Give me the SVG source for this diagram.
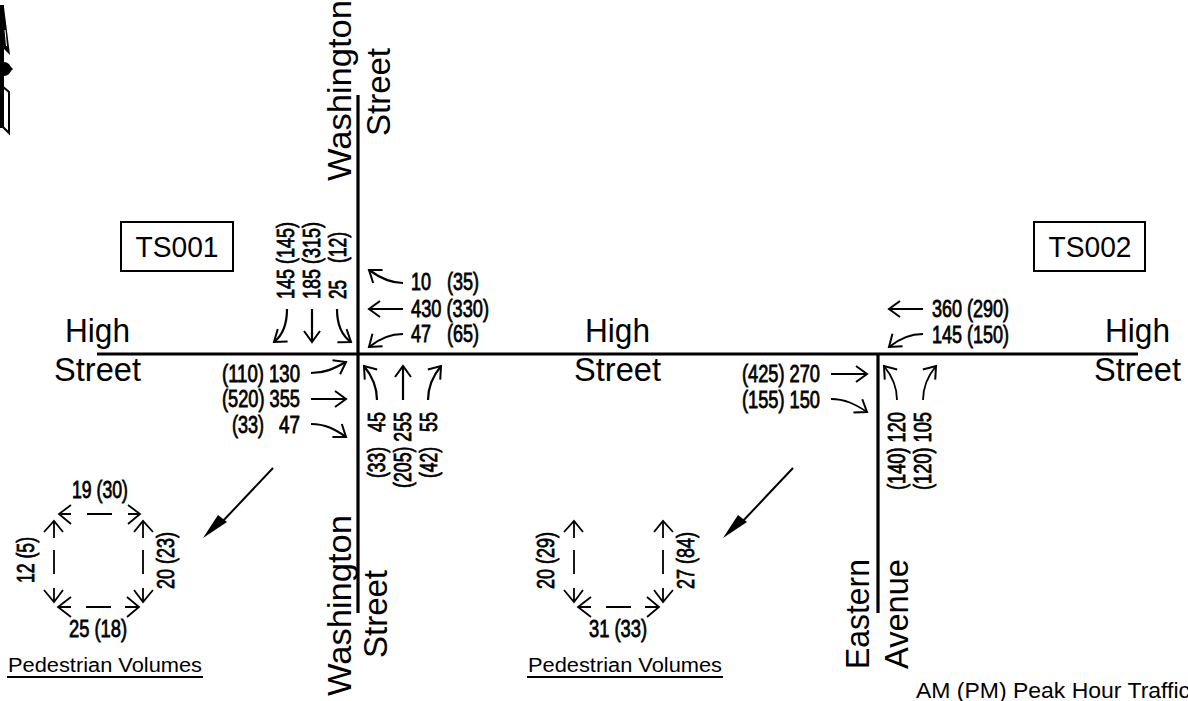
<svg xmlns="http://www.w3.org/2000/svg" width="1188" height="701" viewBox="0 0 1188 701">
<style>
text{font-family:"Liberation Sans",Arial,sans-serif;fill:#000}
.s{font-size:34px}
.n{font-size:23.5px;stroke:#000;stroke-width:.8px}
.t{font-size:29px;text-anchor:middle}
.p{font-size:20px}
.r{fill:none;stroke:#000;stroke-width:3.2}
.a{fill:none;stroke:#000;stroke-width:2.2}
.b{fill:none;stroke:#000;stroke-width:1.8}
</style>
<defs>
<marker id="h" markerUnits="userSpaceOnUse" markerWidth="18" markerHeight="22" refX="14" refY="11" orient="auto"><path d="M3 3 L14 11 L3 19" fill="none" stroke="#000" stroke-width="2"/></marker>
</defs>
<rect width="1188" height="701" fill="#fff"/>
<g id="north-arrow">
<path d="M3 5 L9 53 L3 47 Z" fill="#000" stroke="#000" stroke-width="1.5"/>
<path d="M5 30 L6.5 46" stroke="#fff" stroke-width="1" fill="none"/>
<path d="M2 5 V128" fill="none" stroke="#000" stroke-width="4"/>
<path d="M2 86 L9 92 V133 L2 126 Z" fill="none" stroke="#000" stroke-width="2"/>
<circle cx="4" cy="69" r="7" fill="#000"/>
<path d="M9 65 L13 69 L9 73 Z" fill="#000"/>
</g>
<g id="roads">
<path class="r" d="M97 354 H1138"/>
<path class="r" d="M358 95 V613"/>
<path class="r" d="M878 354 V613"/>
</g>
<g id="road-labels">
<text class="s" x="65" y="342" textLength="65" lengthAdjust="spacingAndGlyphs">High</text>
<text class="s" x="54" y="381" textLength="87" lengthAdjust="spacingAndGlyphs">Street</text>
<text class="s" x="585" y="342" textLength="65" lengthAdjust="spacingAndGlyphs">High</text>
<text class="s" x="574" y="381" textLength="87" lengthAdjust="spacingAndGlyphs">Street</text>
<text class="s" x="1105" y="342" textLength="65" lengthAdjust="spacingAndGlyphs">High</text>
<text class="s" x="1094" y="381" textLength="87" lengthAdjust="spacingAndGlyphs">Street</text>
<text class="s" transform="translate(351 181) rotate(-90)" textLength="181" lengthAdjust="spacingAndGlyphs">Washington</text>
<text class="s" transform="translate(390 136) rotate(-90)" textLength="88" lengthAdjust="spacingAndGlyphs">Street</text>
<text class="s" transform="translate(351 696) rotate(-90)" textLength="181" lengthAdjust="spacingAndGlyphs">Washington</text>
<text class="s" transform="translate(387 658) rotate(-90)" textLength="88" lengthAdjust="spacingAndGlyphs">Street</text>
<text class="s" transform="translate(869 669) rotate(-90)" textLength="110" lengthAdjust="spacingAndGlyphs">Eastern</text>
<text class="s" transform="translate(908 669) rotate(-90)" textLength="110" lengthAdjust="spacingAndGlyphs">Avenue</text>
</g>
<g id="TS001"><rect x="121" y="222" width="112" height="49" fill="#fff" stroke="#000" stroke-width="2"/><text class="t" x="177" y="257" textLength="83" lengthAdjust="spacingAndGlyphs">TS001</text></g>
<g id="TS002"><rect x="1034" y="222" width="111" height="49" fill="#fff" stroke="#000" stroke-width="2"/><text class="t" x="1090" y="257" textLength="83" lengthAdjust="spacingAndGlyphs">TS002</text></g>
<g id="volumes">
<text class="n" transform="translate(294 299) rotate(-90)" textLength="77" lengthAdjust="spacingAndGlyphs">145 (145)</text>
<text class="n" transform="translate(320 299) rotate(-90)" textLength="77" lengthAdjust="spacingAndGlyphs">185 (315)</text>
<text class="n" transform="translate(346 299) rotate(-90)" textLength="19" lengthAdjust="spacingAndGlyphs">25</text>
<text class="n" transform="translate(346 263) rotate(-90)" textLength="31" lengthAdjust="spacingAndGlyphs">(12)</text>
<text class="n" x="411" y="290" textLength="20" lengthAdjust="spacingAndGlyphs">10</text><text class="n" x="447" y="290" textLength="32" lengthAdjust="spacingAndGlyphs">(35)</text>
<text class="n" x="411" y="317" textLength="78" lengthAdjust="spacingAndGlyphs">430 (330)</text>
<text class="n" x="411" y="342" textLength="20" lengthAdjust="spacingAndGlyphs">47</text><text class="n" x="447" y="342" textLength="32" lengthAdjust="spacingAndGlyphs">(65)</text>
<text class="n" x="222" y="382" textLength="78" lengthAdjust="spacingAndGlyphs">(110) 130</text>
<text class="n" x="222" y="407" textLength="78" lengthAdjust="spacingAndGlyphs">(520) 355</text>
<text class="n" x="232" y="433" textLength="32" lengthAdjust="spacingAndGlyphs">(33)</text><text class="n" x="279" y="433" textLength="21" lengthAdjust="spacingAndGlyphs">47</text>
<text class="n" transform="translate(385 478) rotate(-90)" textLength="31" lengthAdjust="spacingAndGlyphs">(33)</text>
<text class="n" transform="translate(385 432) rotate(-90)" textLength="20" lengthAdjust="spacingAndGlyphs">45</text>
<text class="n" transform="translate(411 488) rotate(-90)" textLength="76" lengthAdjust="spacingAndGlyphs">(205) 255</text>
<text class="n" transform="translate(437 478) rotate(-90)" textLength="31" lengthAdjust="spacingAndGlyphs">(42)</text>
<text class="n" transform="translate(437 432) rotate(-90)" textLength="20" lengthAdjust="spacingAndGlyphs">55</text>
<text class="n" x="932" y="317" textLength="77" lengthAdjust="spacingAndGlyphs">360 (290)</text>
<text class="n" x="932" y="343" textLength="77" lengthAdjust="spacingAndGlyphs">145 (150)</text>
<text class="n" x="742" y="382" textLength="78" lengthAdjust="spacingAndGlyphs">(425) 270</text>
<text class="n" x="742" y="408" textLength="78" lengthAdjust="spacingAndGlyphs">(155) 150</text>
<text class="n" transform="translate(905 490) rotate(-90)" textLength="78" lengthAdjust="spacingAndGlyphs">(140) 120</text>
<text class="n" transform="translate(931 490) rotate(-90)" textLength="78" lengthAdjust="spacingAndGlyphs">(120) 105</text>
<text class="n" x="72" y="498" textLength="56" lengthAdjust="spacingAndGlyphs">19 (30)</text>
<text class="n" x="69" y="637" textLength="58" lengthAdjust="spacingAndGlyphs">25 (18)</text>
<text class="n" transform="translate(34 583) rotate(-90)" textLength="46" lengthAdjust="spacingAndGlyphs">12 (5)</text>
<text class="n" transform="translate(174 589) rotate(-90)" textLength="57" lengthAdjust="spacingAndGlyphs">20 (23)</text>
<text class="n" transform="translate(554 589) rotate(-90)" textLength="57" lengthAdjust="spacingAndGlyphs">20 (29)</text>
<text class="n" transform="translate(694 589) rotate(-90)" textLength="57" lengthAdjust="spacingAndGlyphs">27 (84)</text>
<text class="n" x="589" y="637" textLength="58" lengthAdjust="spacingAndGlyphs">31 (33)</text>
</g>
<g id="connectors">
<path class="a" marker-end="url(#h)" d="M287 309 C287 325 283 335 274 342"/>
<path class="a" marker-end="url(#h)" d="M312 309 V342"/>
<path class="a" marker-end="url(#h)" d="M337 309 C337 325 341 335 351 342"/>
<path class="a" marker-end="url(#h)" d="M403 283 C390 283 380 278 369 270"/>
<path class="a" marker-end="url(#h)" d="M403 309 H369"/>
<path class="a" marker-end="url(#h)" d="M403 334 C390 334 380 338 369 347"/>
<path class="a" marker-end="url(#h)" d="M311 373 C325 373 333 369 346 362"/>
<path class="a" marker-end="url(#h)" d="M311 399 H346"/>
<path class="a" marker-end="url(#h)" d="M311 424 C325 424 335 429 346 437"/>
<path class="a" marker-end="url(#h)" d="M377 400 C377 388 373 377 364 366"/>
<path class="a" marker-end="url(#h)" d="M403 400 V366"/>
<path class="a" marker-end="url(#h)" d="M428 400 C428 388 432 377 441 366"/>
<path class="b" marker-end="url(#h)" d="M923 309 H889"/>
<path class="b" marker-end="url(#h)" d="M923 334 C910 334 900 338 889 347"/>
<path class="b" marker-end="url(#h)" d="M831 374 H867"/>
<path class="b" marker-end="url(#h)" d="M831 399 C845 399 855 404 867 412"/>
<path class="b" marker-end="url(#h)" d="M897 400 C897 388 893 377 884 366"/>
<path class="b" marker-end="url(#h)" d="M923 400 C923 388 927 377 936 366"/>
<g id="north-flow">
<path d="M273 468 L222 522" fill="none" stroke="#000" stroke-width="2"/>
<path d="M203 538 L218 515 L227 522 Z" fill="#000"/>
<path d="M793 468 L742 522" fill="none" stroke="#000" stroke-width="2"/>
<path d="M723 538 L738 515 L747 522 Z" fill="#000"/>
</g>
<g id="ped-1">
<path class="b" d="M71 505 L59 514 L71 524 M128 505 L140 514 L128 524 M44 532 L54 521 L63 532 M134 532 L143 521 L153 532 M44 590 L54 602 L63 590 M134 590 L143 602 L153 590 M71 597 L58 607 L71 617 M127 597 L139 607 L127 617"/>
<path class="b" d="M87 514 H112 M54 521 V538 M54 550 V574 M54 588 V602 M143 521 V538 M143 550 V574 M143 588 V602 M86 607 H111 M58 607 H71 M125 607 H139 M59 514 H71 M128 514 H140"/>
</g>
<g id="ped-2">
<path class="b" d="M564 532 L574 521 L583 532 M654 532 L663 521 L673 532 M564 590 L574 602 L583 590 M654 590 L663 602 L673 590 M591 597 L578 607 L591 617 M647 597 L659 607 L647 617"/>
<path class="b" d="M574 521 V538 M574 550 V574 M574 588 V602 M663 521 V538 M663 550 V574 M663 588 V602 M606 607 H631 M578 607 H591 M645 607 H659"/>
</g>
</g>
<g id="captions">
<text class="p" x="8" y="672" textLength="194" lengthAdjust="spacingAndGlyphs">Pedestrian Volumes</text>
<path d="M7 677 H203" stroke="#000" stroke-width="2"/>
<text class="p" x="528" y="672" textLength="194" lengthAdjust="spacingAndGlyphs">Pedestrian Volumes</text>
<path d="M527 677 H723" stroke="#000" stroke-width="2"/>
<text x="916" y="698" font-size="22" textLength="274" lengthAdjust="spacingAndGlyphs">AM (PM) Peak Hour Traffic</text>
</g>
</svg>
